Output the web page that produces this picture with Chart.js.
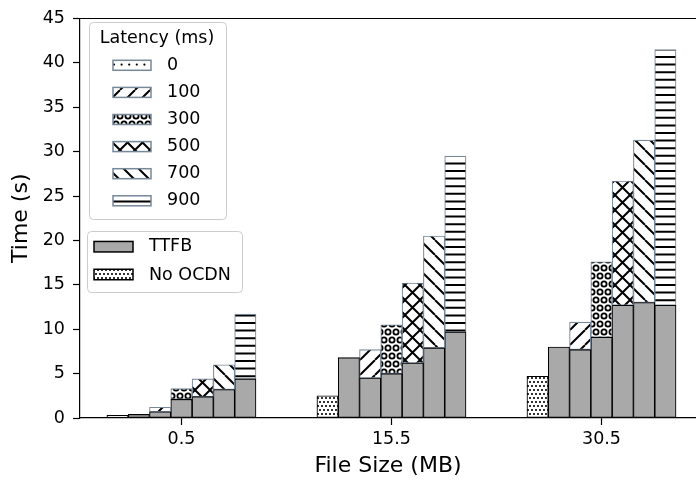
<!DOCTYPE html>
<html>
<head>
<meta charset="utf-8">
<script src="https://cdn.jsdelivr.net/npm/chart.js@4/dist/chart.umd.min.js"></script>
<style>
html, body { margin: 0; padding: 0; background: #fff; overflow: hidden; }
#wrap { width: 696px; height: 483px; }
</style>
</head>
<body>
<div id="wrap"><canvas id="myChart"></canvas></div>
<script>
// data
var fileSizes = ['0.5', '15.5', '30.5'];
var latencies = ['0', '100', '300', '500', '700', '900'];
var noOcdn = [0.3, 2.5, 4.7];
// TTFB (grey part) per latency, one value per file size
var ttfb = [
    [0.4, 6.8, 8.0],
    [0.7, 4.5, 7.7],
    [2.1, 5.0, 9.1],
    [2.4, 6.2, 12.7],
    [3.2, 7.9, 13.0],
    [4.4, 9.7, 12.7]
];
// full bar height per latency
var total = [
    [0.4, 6.8, 8.0],
    [1.2, 7.7, 10.8],
    [3.3, 10.5, 17.6],
    [4.4, 15.2, 26.7],
    [6.0, 20.5, 31.3],
    [11.7, 29.5, 41.5]
];
var hatchKinds = ['dots', 'fwd', 'circles', 'cross', 'back', 'hline'];

var GREY = '#a9a9a9';
var EDGE = '#778899';
var FONT = "'DejaVu Sans', sans-serif";

Chart.defaults.font.family = FONT;
Chart.defaults.color = '#000';

// hatch tiles
function tile(w, h, draw) {
    var c = document.createElement('canvas');
    c.width = w; c.height = h;
    var g = c.getContext('2d');
    g.fillStyle = '#fff';
    g.fillRect(0, 0, w, h);
    g.strokeStyle = '#000';
    g.fillStyle = '#000';
    g.lineWidth = 2;
    draw(g, w, h);
    return g.createPattern(c, 'repeat');
}
function diag(g, T, d, dir) {
    g.beginPath();
    for (var k = -2; k * d <= 2 * T; k++) {
        if (dir > 0) { g.moveTo(k * d, 0); g.lineTo(k * d - T, T); }
        else { g.moveTo(k * d - T, 0); g.lineTo(k * d, T); }
    }
    g.stroke();
}
function shapes(step, r, filled, lw) {
    var T = step * 10;
    return tile(T, T, function (g) {
        g.lineWidth = lw || 2;
        for (var k = 0; k < 10; k++) {
            var y = k * step + step / 2;
            for (var j = -1; j <= 10; j++) {
                var x = j * step + (k % 2 ? step / 2 : 0);
                g.beginPath();
                g.arc(x, y, r, 0, Math.PI * 2);
                if (filled) g.fill(); else g.stroke();
            }
        }
    });
}
var patterns = {
    dense: shapes(4, 1.05, true),
    dots: shapes(7.6, 1.1, true),
    circles: shapes(8, 2.6, false, 1.8),
    fwd: tile(15, 15, function (g, w) { diag(g, w, 15, 1); }),
    back: tile(15, 15, function (g, w) { diag(g, w, 15, -1); }),
    cross: tile(15, 15, function (g, w) { diag(g, w, 15, 1); diag(g, w, 15, -1); }),
    hline: tile(4, 38, function (g, w) {
        g.beginPath();
        for (var k = 0; k < 5; k++) { g.moveTo(0, 3.8 + k * 7.6); g.lineTo(w, 3.8 + k * 7.6); }
        g.stroke();
    })
};

function pts(arr) {
    return arr.map(function (v, i) { return { x: i, y: v }; });
}

var datasets = [{
    label: 'No OCDN',
    stack: 'none',
    data: pts(noOcdn),
    backgroundColor: patterns.dense,
    borderColor: '#000'
}];
latencies.forEach(function (lat, j) {
    datasets.push({
        label: 'TTFB ' + lat,
        stack: 'lat' + lat,
        data: pts(ttfb[j]),
        backgroundColor: GREY,
        borderColor: '#000'
    });
    datasets.push({
        label: lat + ' ms',
        stack: 'lat' + lat,
        data: pts(total[j].map(function (v, i) { return +(v - ttfb[j][i]).toFixed(2); })),
        backgroundColor: patterns[hatchKinds[j]],
        borderColor: EDGE
    });
});

function roundBox(ctx, x, y, w, h, r) {
    ctx.beginPath();
    ctx.moveTo(x + r, y);
    ctx.lineTo(x + w - r, y);
    ctx.arcTo(x + w, y, x + w, y + r, r);
    ctx.lineTo(x + w, y + h - r);
    ctx.arcTo(x + w, y + h, x + w - r, y + h, r);
    ctx.lineTo(x + r, y + h);
    ctx.arcTo(x, y + h, x, y + h - r, r);
    ctx.lineTo(x, y + r);
    ctx.arcTo(x, y, x + r, y, r);
    ctx.closePath();
    ctx.fillStyle = 'rgba(255,255,255,0.8)';
    ctx.fill();
    ctx.strokeStyle = '#cccccc';
    ctx.lineWidth = 1;
    ctx.stroke();
}
function patch(ctx, x, yc, w, h, fill, edge) {
    ctx.fillStyle = fill;
    ctx.fillRect(x, yc - h / 2, w, h);
    ctx.strokeStyle = edge;
    ctx.lineWidth = 1.5;
    ctx.strokeRect(x, yc - h / 2, w, h);
}

var framePlugin = {
    id: 'frame',
    afterDraw: function (chart) {
        var ctx = chart.ctx, a = chart.chartArea;
        ctx.save();
        ctx.strokeStyle = '#000';
        ctx.lineWidth = 1.2;
        ctx.beginPath();
        ctx.moveTo(a.left, a.top);
        ctx.lineTo(a.right, a.top);
        ctx.stroke();

        ctx.font = '17.5px ' + FONT;
        ctx.textBaseline = 'middle';

        // latency legend
        roundBox(ctx, 89.5, 22.5, 137, 197, 4);
        ctx.fillStyle = '#000';
        ctx.textAlign = 'center';
        ctx.fillText('Latency (ms)', 157, 38.5);
        ctx.textAlign = 'left';
        latencies.forEach(function (lat, j) {
            var yc = 65.3 + j * 27.1;
            patch(ctx, 113, yc, 38, 10, patterns[hatchKinds[j]], EDGE);
            ctx.fillStyle = '#000';
            ctx.fillText(lat, 167, yc);
        });

        // TTFB / No OCDN legend
        roundBox(ctx, 87.5, 231.5, 155, 61, 4);
        patch(ctx, 94, 246.7, 39, 10.5, GREY, '#000');
        ctx.fillStyle = '#000';
        ctx.fillText('TTFB', 149, 246.7);
        patch(ctx, 94, 274.5, 39, 10.5, patterns.dense, '#000');
        ctx.fillStyle = '#000';
        ctx.fillText('No OCDN', 149, 275);
        ctx.restore();
    }
};

var ctx = document.getElementById('myChart').getContext('2d');
var myChart = new Chart(ctx, {
    type: 'bar',
    data: { datasets: datasets },
    options: {
        responsive: true,
        maintainAspectRatio: false,
        animation: false,
        layout: { padding: { top: 13, right: 0, bottom: 0, left: 0 } },
        datasets: {
            bar: { barThickness: 21.3, borderWidth: 1.1, borderSkipped: false }
        },
        plugins: { legend: { display: false }, tooltip: { enabled: false } },
        scales: {
            x: {
                type: 'linear',
                min: -0.483,
                max: 2.45,
                offset: false,
                afterBuildTicks: function (s) {
                    s.ticks = fileSizes.map(function (f, i) { return { value: i }; });
                },
                ticks: {
                    callback: function (v) { return fileSizes[Math.round(v)]; },
                    font: { size: 17.5 },
                    color: '#000',
                    padding: 4,
                    maxRotation: 0
                },
                grid: { offset: false, drawOnChartArea: false, tickLength: 7, color: '#000', tickWidth: 1.2 },
                border: { color: '#000', width: 1.2 },
                title: { display: true, text: 'File Size (MB)', font: { size: 22 }, color: '#000', padding: { top: 0, bottom: 4 } },
                afterFit: function (s) { s.height = 65; }
            },
            y: {
                stacked: true,
                min: 0,
                max: 45,
                ticks: { stepSize: 5, font: { size: 17.5 }, color: '#000', padding: 8 },
                grid: { drawOnChartArea: false, tickLength: 7, color: '#000', tickWidth: 1.2 },
                border: { color: '#000', width: 1.2 },
                title: { display: true, text: 'Time (s)', font: { size: 22 }, color: '#000', padding: { top: 8, bottom: 0 } },
                afterFit: function (s) { s.width = 80; }
            }
        }
    },
    plugins: [framePlugin]
});
</script>
</body>
</html>
